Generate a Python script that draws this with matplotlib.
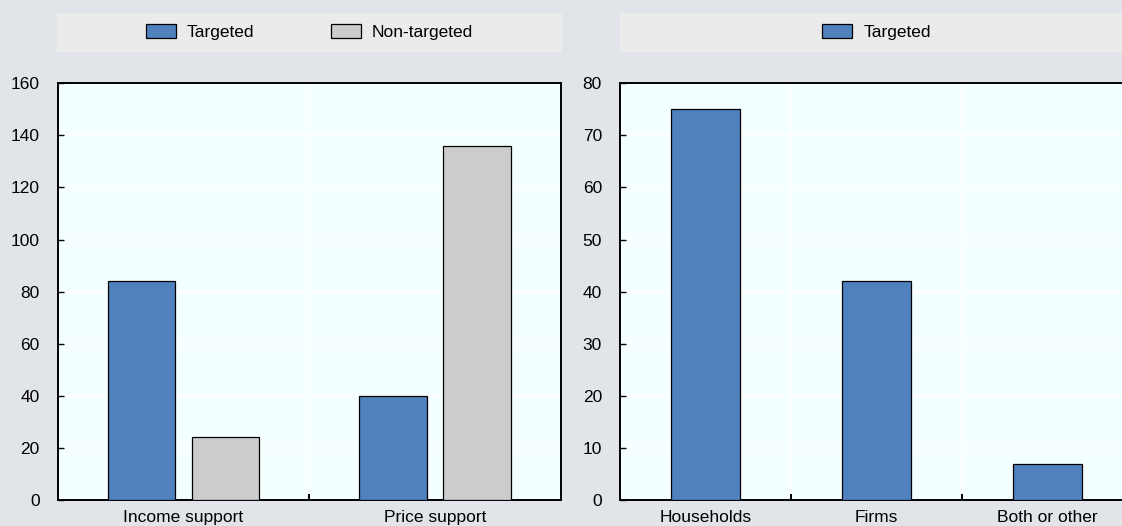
import matplotlib
matplotlib.use("Agg")
import matplotlib.pyplot as plt
from matplotlib.patches import Patch

plt.rcParams["font.family"] = ["Liberation Sans", "DejaVu Sans"]

# left panel: support type
support_types = ["Income support", "Price support"]
targeted_support = [84, 40]
non_targeted_support = [24, 136]

# right panel: recipients of targeted measures
recipients = ["Households", "Firms", "Both or other"]
targeted_recipients = [75, 42, 7]

BLUE = "#4F81BD"
GREY = "#CCCCCC"
FIG_BG = "#E1E5EA"
PLOT_BG = "#F4FFFF"
LEG_BG = "#EBEBEB"
FS = 12.5

W, H = 1122, 526
fig = plt.figure(figsize=(W / 100, H / 100), dpi=100, facecolor=FIG_BG)


def px_axes(x0, y0, x1, y1):
    """Axes from pixel box (top-left origin)."""
    return fig.add_axes([x0 / W, 1 - y1 / H, (x1 - x0) / W, (y1 - y0) / H])


def style_axes(ax, n_cat, ymax, ystep):
    ax.set_facecolor(PLOT_BG)
    ax.set_xlim(-0.5, n_cat - 0.5)
    ax.set_ylim(0, ymax)
    ax.set_yticks(range(0, ymax + 1, ystep))
    ax.set_xticks([i + 0.5 for i in range(n_cat - 1)])
    ax.set_xticklabels([])
    ax.tick_params(axis="x", which="major", direction="in", length=4, width=1.4, color="black")
    ax.tick_params(axis="y", direction="in", length=4, width=1, pad=13, labelsize=FS)
    ax.tick_params(axis="x", which="minor", length=0, pad=7.5, labelsize=FS)
    ax.grid(True, which="major", color="white", linewidth=1.2)
    ax.set_axisbelow(True)
    for s in ax.spines.values():
        s.set_linewidth(1.4)
        s.set_color("black")


def legend_box(x0, x1, handles, labels):
    lax = px_axes(x0, 12.5, x1, 51.5)
    lax.set_facecolor(LEG_BG)
    lax.set_xticks([])
    lax.set_yticks([])
    for s in lax.spines.values():
        s.set_visible(False)
    lax.legend(handles, labels, loc="center", ncol=len(labels), frameon=False,
               fontsize=FS, handlelength=1.72, handleheight=0.92,
               handletextpad=0.63, columnspacing=4.4, borderaxespad=0)


# left panel
ax1 = px_axes(57.7, 83.3, 560.7, 500)
style_axes(ax1, len(support_types), 160, 20)
x1 = list(range(len(support_types)))
w1 = 0.267
ax1.bar([x - 0.167 for x in x1], targeted_support, w1, color=BLUE,
        edgecolor="black", linewidth=0.9, zorder=3)
ax1.bar([x + 0.167 for x in x1], non_targeted_support, w1, color=GREY,
        edgecolor="black", linewidth=0.9, zorder=3)
ax1.set_xticks(x1, minor=True)
ax1.set_xticklabels(support_types, minor=True)

# right panel
ax2 = px_axes(620, 83.3, 1133, 500)
style_axes(ax2, len(recipients), 80, 10)
x2 = list(range(len(recipients)))
ax2.bar(x2, targeted_recipients, 0.4, color=BLUE, edgecolor="black",
        linewidth=0.9, zorder=3)
ax2.set_xticks(x2, minor=True)
ax2.set_xticklabels(recipients, minor=True)

h_t = Patch(facecolor=BLUE, edgecolor="black", linewidth=0.9)
h_n = Patch(facecolor=GREY, edgecolor="black", linewidth=0.9)
legend_box(56.7, 562, [h_t, h_n], ["Targeted", "Non-targeted"])
legend_box(620, 1133, [h_t], ["Targeted"])

fig.savefig("out.png", dpi=100, facecolor=FIG_BG)
